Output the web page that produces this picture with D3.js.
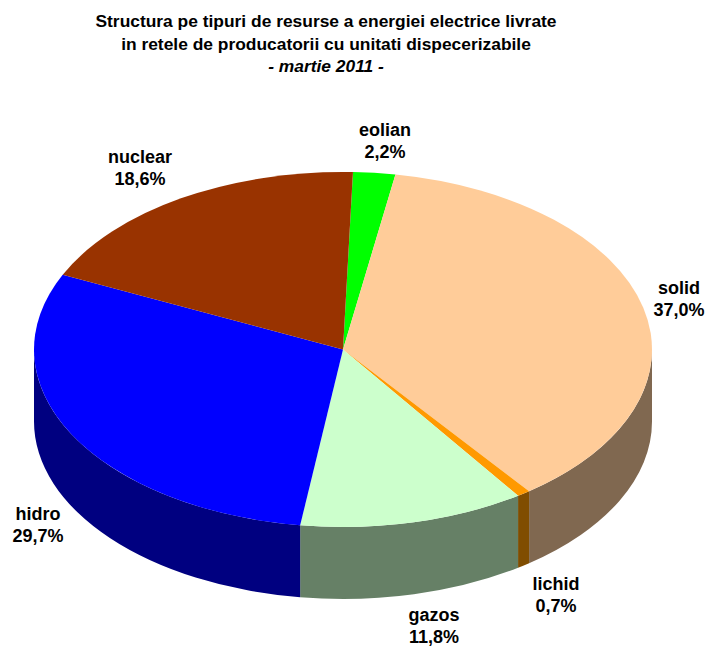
<!DOCTYPE html>
<html>
<head>
<meta charset="utf-8">
<script src="https://cdn.jsdelivr.net/npm/d3@7"></script>
<style>
  html, body { margin: 0; padding: 0; background: #fff; }
  text { font-family: "Liberation Sans", Arial, sans-serif; fill: #000; }
</style>
</head>
<body>
<div id="chart"></div>
<script>
// data
var categories = ['eolian', 'solid', 'lichid', 'gazos', 'hidro', 'nuclear'];
var shares = [2.2, 37.0, 0.7, 11.8, 29.7, 18.6];
var titleLines = [
  'Structura pe tipuri de resurse a energiei electrice livrate',
  'in retele de producatorii cu unitati dispecerizabile',
  '- martie 2011 -'
];

var topColors = ['#00ff00', '#ffcc99', '#ff9900', '#ccffcc', '#0000ff', '#993300'];
var sideColors = ['#008000', '#806850', '#804d00', '#668066', '#000080', '#4d1a00'];

var width = 707;
var height = 646;
var cx = 343;
var cy = 349.5;
var rx = 309;
var ry = 177.5;
var depth = 72;
var firstAngle = 1.85 * Math.PI / 180;

// where each label sits (centre, y of the first line)
var labelPlaces = {
  eolian: [385, 136],
  solid: [679, 294],
  lichid: [556, 590],
  gazos: [434, 621],
  hidro: [38, 520],
  nuclear: [140, 163]
};

var svg = d3.select('#chart').append('svg')
  .attr('width', width)
  .attr('height', height)
  .style('display', 'block');

svg.selectAll('text.title')
  .data(titleLines)
  .enter().append('text')
  .attr('class', 'title')
  .attr('x', 326)
  .attr('y', function (d, i) { return 27 + i * 22.5; })
  .attr('text-anchor', 'middle')
  .style('font-size', '17.4px')
  .style('font-weight', 'bold')
  .style('font-style', function (d, i) { return i == 2 ? 'italic' : 'normal'; })
  .text(function (d) { return d; });

var pie = d3.pie()
  .value(function (d) { return d; })
  .sort(null)
  .startAngle(firstAngle)
  .endAngle(firstAngle + 2 * Math.PI);

var slices = pie(shares);

function px(a) { return cx + rx * Math.sin(a); }
function py(a) { return cy - ry * Math.cos(a); }

// the rim, only the front half of the ellipse can be seen
function sidePath(s) {
  var a0 = Math.max(s.startAngle, Math.PI / 2);
  var a1 = Math.min(s.endAngle, 3 * Math.PI / 2);
  if (a1 <= a0) return null;
  var p = 'M' + px(a0) + ',' + py(a0);
  p += 'A' + rx + ',' + ry + ' 0 0 1 ' + px(a1) + ',' + py(a1);
  p += 'L' + px(a1) + ',' + (py(a1) + depth);
  p += 'A' + rx + ',' + ry + ' 0 0 0 ' + px(a0) + ',' + (py(a0) + depth);
  return p + 'Z';
}

svg.selectAll('path.side')
  .data(slices)
  .enter().append('path')
  .attr('class', 'side')
  .attr('d', sidePath)
  .attr('fill', function (d, i) { return sideColors[i]; });

var arc = d3.arc().innerRadius(0).outerRadius(rx);

svg.append('g')
  .attr('transform', 'translate(' + cx + ',' + cy + ') scale(1,' + (ry / rx) + ')')
  .selectAll('path.top')
  .data(slices)
  .enter().append('path')
  .attr('class', 'top')
  .attr('d', arc)
  .attr('fill', function (d, i) { return topColors[i]; });

categories.forEach(function (name, i) {
  var place = labelPlaces[name];
  var label = svg.append('text')
    .attr('text-anchor', 'middle')
    .style('font-size', '18px')
    .style('font-weight', 'bold');
  label.append('tspan').attr('x', place[0]).attr('y', place[1]).text(name);
  label.append('tspan').attr('x', place[0]).attr('y', place[1] + 22)
    .text(shares[i].toFixed(1).replace('.', ',') + '%');
});
</script>
</body>
</html>
